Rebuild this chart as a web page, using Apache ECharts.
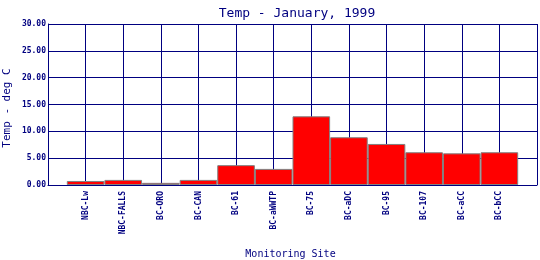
<!DOCTYPE html>
<html><head><meta charset="utf-8">
<script src="https://cdn.jsdelivr.net/npm/echarts@6/dist/echarts.min.js"></script>
<style>html,body{margin:0;padding:0;background:#fff}#c{width:540px;height:260px}</style>
</head><body><div id="c"></div>
<script>
var categories = ['', 'NBC-Lw', 'NBC-FALLS', 'BC-ORO', 'BC-CAN', 'BC-61', 'BC-aWWTP', 'BC-75', 'BC-aDC', 'BC-95', 'BC-107', 'BC-aCC', 'BC-bCC', ''];
var temps = [null, 0.75, 0.95, 0.4, 0.95, 3.7, 3.0, 12.8, 8.9, 7.65, 6.1, 5.9, 6.1, null];
var titleText = 'Temp - January, 1999';
var xName = 'Monitoring Site';
var yName = 'Temp - deg C';
var navy = '#000080';
var font = 'DejaVu Sans Mono';
var chart = echarts.init(document.getElementById('c'), null, {renderer: 'canvas'});
chart.setOption({
  animation: false,
  backgroundColor: '#fff',
  title: {text: titleText, left: 292, textAlign: 'center', top: 2,
    textStyle: {color: navy, fontFamily: font, fontSize: 13, fontWeight: 'normal'}},
  grid: {left: 48, right: 3, top: 24, bottom: 75, containLabel: false, outerBoundsMode: 'none'},
  graphic: [
    {type: 'text', x: 290.5, y: 254.5, style: {text: xName, fill: navy, font: '10px "DejaVu Sans Mono"', textAlign: 'center', textVerticalAlign: 'middle'}},
    {type: 'text', x: 7, y: 108, rotation: Math.PI / 2, style: {text: yName, fill: navy, font: '11px "DejaVu Sans Mono"', textAlign: 'center', textVerticalAlign: 'middle'}}
  ],
  xAxis: {
    type: 'category', data: categories, boundaryGap: false,
    axisLine: {show: true, lineStyle: {color: navy, width: 1}},
    axisTick: {show: false},
    axisLabel: {interval: 0, rotate: 90, color: navy, fontFamily: font, fontSize: 8, fontWeight: 'bold', margin: 6},
    splitLine: {show: true, interval: 0, lineStyle: {color: navy, width: 1}}
  },
  yAxis: {
    type: 'value', min: 0, max: 30, interval: 5,
    axisLine: {show: true, lineStyle: {color: navy, width: 1}},
    axisTick: {show: false},
    axisLabel: {color: navy, fontFamily: font, fontSize: 8, fontWeight: 'bold', margin: 2,
      formatter: function (v) { return v.toFixed(2); }},
    splitLine: {show: true, lineStyle: {color: navy, width: 1}}
  },
  series: [{
    type: 'bar', data: temps, barWidth: '100%',
    itemStyle: {color: '#ff0000', borderColor: '#808080', borderWidth: 1}
  }]
});
</script></body></html>
